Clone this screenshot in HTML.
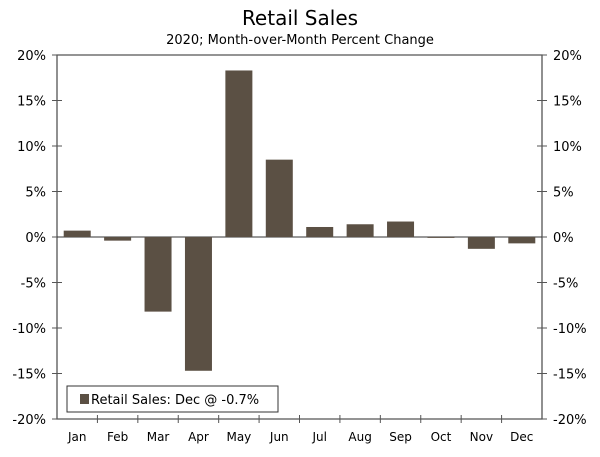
<!DOCTYPE html>
<html><head><meta charset="utf-8"><style>
body{margin:0;background:#fff;font-family:"DejaVu Sans","Liberation Sans",sans-serif;}
svg text{font-family:"DejaVu Sans","Liberation Sans",sans-serif;fill:#000;}
</style></head><body>
<svg id="chart" width="600" height="453" xmlns="http://www.w3.org/2000/svg">
<text x="300" y="25" text-anchor="middle" font-size="20">Retail Sales</text>
<text x="300" y="44" text-anchor="middle" font-size="13">2020; Month-over-Month Percent Change</text>
<g id="plot"></g>
</svg>
<script>
const categories=["Jan","Feb","Mar","Apr","May","Jun","Jul","Aug","Sep","Oct","Nov","Dec"];
const values=[0.7,-0.4,-8.2,-14.7,18.3,8.5,1.1,1.4,1.7,-0.1,-1.3,-0.7];
const yTicks=[20,15,10,5,0,-5,-10,-15,-20];
const yTickLabels=["20%","15%","10%","5%","0%","-5%","-10%","-15%","-20%"];
const legendLabel="Retail Sales: Dec @ -0.7%";
const NS="http://www.w3.org/2000/svg";
const g=document.getElementById('plot');
const L=57,R=542,T=55,B=419,yMin=-20,yMax=20;
const y=v=>T+(yMax-v)/(yMax-yMin)*(B-T);
const bw=(R-L)/categories.length;
const x=i=>L+bw*(i+0.5);
function mk(t,a){const e=document.createElementNS(NS,t);for(const k in a)e.setAttribute(k,a[k]);g.appendChild(e);return e;}
let ax=mk('path',{d:`M${L},${T}H${R}V${B}H${L}Z`,fill:'none',stroke:'#555','stroke-width':1.3});


yTicks.forEach((v,i)=>{
  const t=mk('path',{d:`M${L-5},${y(v)}H${L+5}M${R-5},${y(v)}H${R+5}`,stroke:'#555','stroke-width':1});
  
  
  const a=mk('text',{x:L-11,y:y(v)+5,'text-anchor':'end','font-size':13});a.textContent=yTickLabels[i];
  
  
  const b=mk('text',{x:R+11,y:y(v)+5,'text-anchor':'start','font-size':13});b.textContent=yTickLabels[i];
  
  
});
const z=mk('line',{x1:L,x2:R,y1:y(0),y2:y(0),stroke:'#333','stroke-width':1});


categories.forEach((c,i)=>{
  const v=values[i];
  const r=mk('rect',{x:x(i)-13.5,width:27,y:Math.min(y(v),y(0)),height:Math.abs(y(v)-y(0)),fill:'#5b5044'});
  
  
  const t=mk('text',{x:x(i),y:B+22,'text-anchor':'middle','font-size':12});t.textContent=c;
  
  
  if(i>0){const tk=mk('line',{x1:L+bw*i,x2:L+bw*i,y1:B-4,y2:B+4,stroke:'#555'});
  
  }
});
const lb=mk('rect',{x:67,y:386,width:211,height:26,fill:'#fff',stroke:'#333','stroke-width':1});


const ls=mk('rect',{x:80,y:394,width:9,height:10,fill:'#5b5044'});


const lt=mk('text',{x:91,y:404,'font-size':13});lt.textContent=legendLabel;


</script>
</body></html>
